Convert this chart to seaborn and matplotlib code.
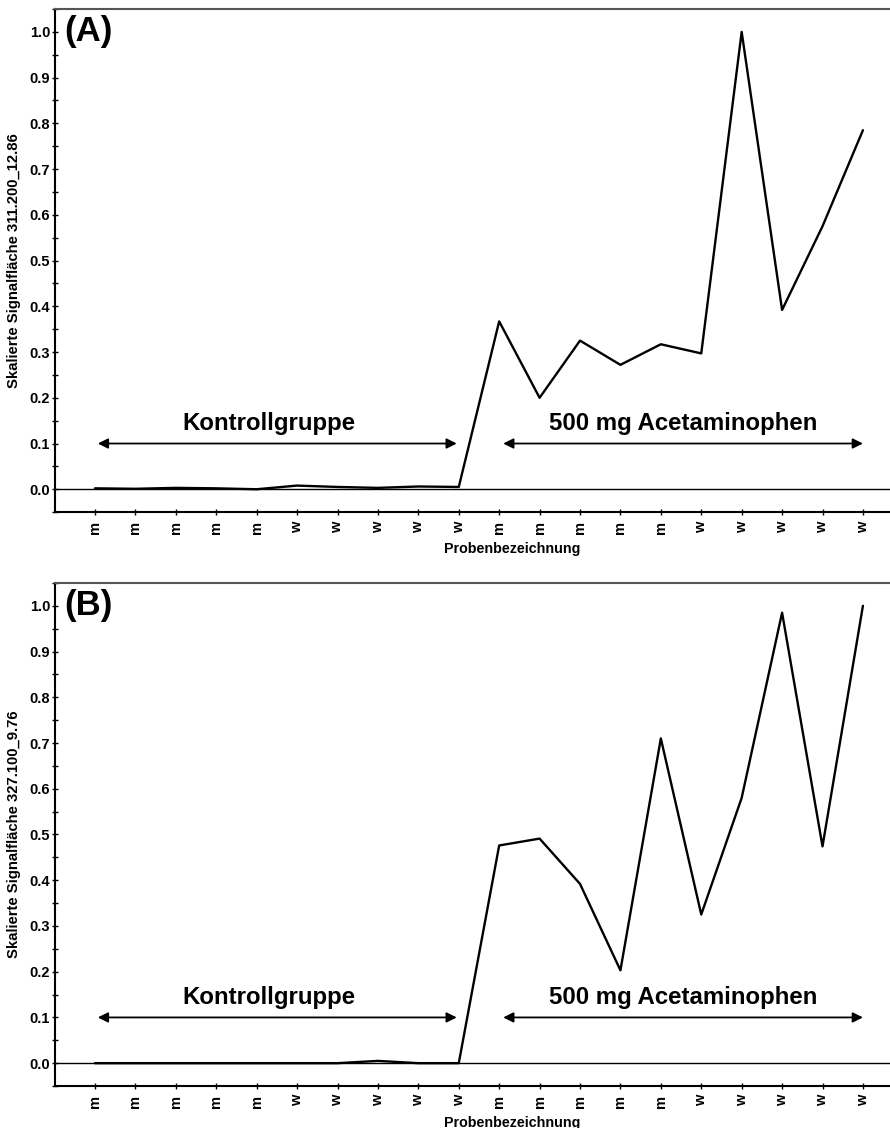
import numpy as np
import pandas as pd
import matplotlib
matplotlib.use("Agg")
import matplotlib.pyplot as plt
import seaborn as sns
from matplotlib.ticker import MultipleLocator, FormatStrFormatter

sns.set_style("white")
plt.rcParams['font.family'] = ['Liberation Sans', 'DejaVu Sans']
plt.rcParams['font.weight'] = 'bold'
plt.rcParams['text.color'] = 'black'
plt.rcParams['axes.labelcolor'] = 'black'
plt.rcParams['xtick.color'] = 'black'
plt.rcParams['ytick.color'] = 'black'

sample_labels = ['m'] * 5 + ['w'] * 5 + ['m'] * 5 + ['w'] * 5
values_a = [0.002, 0.001, 0.003, 0.002, 0.000, 0.008, 0.005, 0.003, 0.006, 0.005,
            0.367, 0.200, 0.325, 0.272, 0.317, 0.297, 1.000, 0.392, 0.575, 0.785]
values_b = [0.000, 0.000, 0.000, 0.000, 0.000, 0.000, 0.000, 0.005, 0.000, 0.000,
            0.476, 0.491, 0.392, 0.203, 0.710, 0.325, 0.580, 0.985, 0.474, 1.000]
ylabels = ["Skalierte Signalfläche 311.200_12.86", "Skalierte Signalfläche 327.100_9.76"]
panel_tags = ["(A)", "(B)"]
group_names = ["Kontrollgruppe", "500 mg Acetaminophen"]
xlabel = "Probenbezeichnung"

fig = plt.figure(figsize=(8.9, 11.28), dpi=100)
ax_a = fig.add_axes([0.0618, 0.546, 0.9382, 0.446])
ax_b = fig.add_axes([0.0618, 0.0372, 0.9382, 0.446])

for ax, vals, yl, tag in [(ax_a, values_a, ylabels[0], panel_tags[0]),
                          (ax_b, values_b, ylabels[1], panel_tags[1])]:
    df = pd.DataFrame({"idx": np.arange(len(vals)), "val": vals})
    ax.axhline(0, color='black', lw=1.0, zorder=1)
    sns.lineplot(data=df, x="idx", y="val", ax=ax, color='black', lw=1.7, zorder=3)
    ax.set_xlim(-0.99, 19.67)
    ax.set_ylim(-0.05, 1.05)
    ax.set_xticks(np.arange(len(vals)))
    ax.set_xticklabels(sample_labels, rotation=90, fontsize=10.5, fontweight='bold')
    ax.yaxis.set_major_locator(MultipleLocator(0.1))
    ax.yaxis.set_minor_locator(MultipleLocator(0.05))
    ax.yaxis.set_major_formatter(FormatStrFormatter('%.1f'))
    for lab in ax.get_yticklabels():
        lab.set_fontweight('bold')
        lab.set_fontsize(10.5)
    ax.tick_params(axis='y', which='both', left=True)
    ax.tick_params(axis='x', which='both', bottom=True)
    ax.tick_params(axis='y', which='major', direction='inout', length=5, width=1, pad=1)
    ax.tick_params(axis='y', which='minor', direction='inout', length=4, width=1)
    ax.tick_params(axis='x', which='major', direction='inout', length=5, width=1, pad=4)
    ax.set_xlabel(xlabel, fontsize=10.3, fontweight='bold', labelpad=4)
    ax.xaxis.set_label_coords(0.548, -0.060)
    ax.set_ylabel(yl, fontsize=10.7, fontweight='bold', labelpad=6)
    ax.spines['right'].set_visible(False)
    for s in ['left', 'bottom', 'top']:
        ax.spines[s].set_linewidth(1.5)
        ax.spines[s].set_color('black')
    ax.spines['top'].set_color('#555555')
    ax.text(-0.75, 1.0, tag, fontsize=25, fontweight='bold', va='center', ha='left')
    # group arrows
    ax.annotate('', xy=(0.07, 0.1), xytext=(8.95, 0.1),
                arrowprops=dict(arrowstyle='<|-|>', color='black', lw=1.3,
                                mutation_scale=15, shrinkA=0, shrinkB=0))
    ax.annotate('', xy=(10.1, 0.1), xytext=(19.0, 0.1),
                arrowprops=dict(arrowstyle='<|-|>', color='black', lw=1.3,
                                mutation_scale=15, shrinkA=0, shrinkB=0))
    ax.text(4.3, 0.143, group_names[0], fontsize=17.3, fontweight='bold', ha='center', va='center')
    ax.text(14.55, 0.143, group_names[1], fontsize=17.3, fontweight='bold', ha='center', va='center')

fig.savefig("out.png", dpi=100)
